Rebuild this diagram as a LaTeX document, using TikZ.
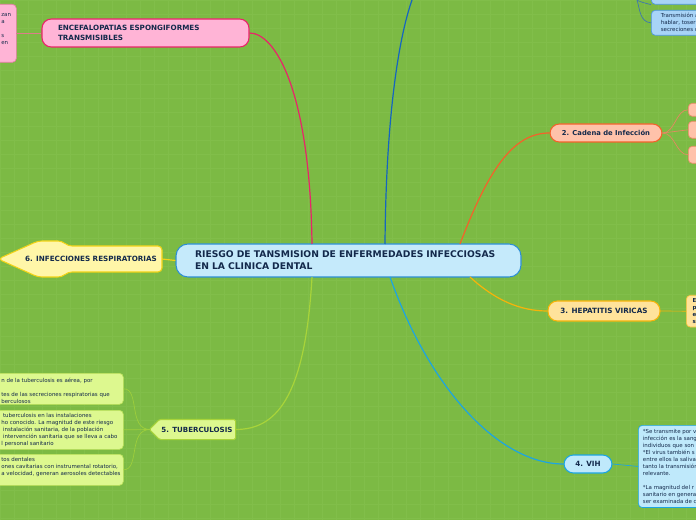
\documentclass[tikz,border=0pt]{standalone}
\usepackage{fontspec}
\setmainfont{DejaVu Sans}
\usetikzlibrary{calc}
\definecolor{bg}{HTML}{7CBA44}
\definecolor{gridc}{HTML}{81BE4A}
\definecolor{navy}{HTML}{13294B}
\definecolor{cfill}{HTML}{C5EAFB}\definecolor{cdraw}{HTML}{2D8FD5}
\definecolor{pfill}{HTML}{FFB4D6}\definecolor{pdraw}{HTML}{E8246A}\definecolor{psub}{HTML}{E87CA8}
\definecolor{sfill}{HTML}{FFC2AA}\definecolor{sdraw}{HTML}{F4622A}\definecolor{ssub}{HTML}{EE8A6A}
\definecolor{hfill}{HTML}{FFE39B}\definecolor{hdraw}{HTML}{F6B40A}
\definecolor{vfill}{HTML}{BFE9FB}\definecolor{vdraw}{HTML}{1CA5E2}
\definecolor{tfill}{HTML}{DDF88F}\definecolor{tdraw}{HTML}{A8D43A}
\definecolor{rfill}{HTML}{FFF6A8}\definecolor{rdraw}{HTML}{F2D316}
\definecolor{bfill}{HTML}{A8D4F7}\definecolor{bdraw}{HTML}{4E95E0}
\definecolor{blueline}{HTML}{1565C0}
\tikzset{
  mainbox/.style={draw=cdraw, fill=cfill, line width=0.8pt, rounded corners=9pt, text=navy,
     font=\fontsize{6.9}{9}\selectfont\bfseries, align=left},
  topic/.style={line width=0.8pt, rounded corners=7pt, text=navy,
     font=\fontsize{5.4}{7.5}\selectfont\bfseries, inner sep=0pt},
  sub/.style={line width=0.5pt, rounded corners=3pt, text=navy,
     font=\fontsize{4.1}{5.25}\selectfont, align=left, inner sep=0pt, anchor=north west},
  subb/.style={sub, font=\fontsize{4.1}{5.25}\selectfont\bfseries},
  conn/.style={line width=0.9pt},
  subconn/.style={line width=0.5pt},
}
\begin{document}
\begin{tikzpicture}[x=0.75pt,y=-0.75pt]
\useasboundingbox (0,0) rectangle (696,520);
\clip (0,0) rectangle (696,520);
\fill[bg] (0,0) rectangle (696,520);
\foreach \i in {0,14,...,700} {\draw[gridc, line width=0.4pt] (\i,0) -- (\i,520);}
\foreach \i in {0,14,...,520} {\draw[gridc, line width=0.4pt] (0,\i) -- (696,\i);}

% central node
\node[mainbox, minimum width=345*0.75pt, minimum height=33*0.75pt, text width=307*0.75pt, inner xsep=19*0.75pt] (c) at (348.5,260.5)
  {RIESGO DE TANSMISION DE ENFERMEDADES INFECCIOSAS\\EN LA CLINICA DENTAL};
\coordinate (c1) at (312,244);
\coordinate (c2) at (385,244);
\coordinate (c3) at (460,244);
\coordinate (c4) at (470,277);
\coordinate (c5) at (390,277);
\coordinate (c6) at (312,277);

% ENCEFALOPATIAS
\node[topic, draw=pdraw, fill=pfill, minimum width=207*0.75pt, minimum height=28*0.75pt, text width=175*0.75pt, inner xsep=16*0.75pt, align=left] (enc) at (145.5,33)
  {ENCEFALOPATIAS ESPONGIFORMES\\TRANSMISIBLES};
\node[sub, draw=psub, fill=pfill, minimum width=36*0.75pt, minimum height=58*0.75pt] (encs) at (-20,4) {};
\node[sub, draw=none, fill=none, text width=20*0.75pt] (encst) at (1,13) {zan\\a\\[5.25pt]s\\en};
\coordinate (encsr) at (16,33);
\draw[subconn, color=psub!70!brown] (encsr) -- (enc.west);

% top blue boxes
\node[sub, draw=bdraw, fill=bfill, minimum width=60*0.75pt, minimum height=16*0.75pt] (ba) at (651,-12) {};
\node[sub, draw=none, fill=none] (bat) at (656,-6) {mucosas};
\node[sub, draw=bdraw, fill=bfill, minimum width=60*0.75pt, minimum height=25*0.75pt, inner sep=2.2pt] (bb) at (651,10) {Transmisión aé\\hablar, toser o\\secreciones co};
\coordinate (btop) at (637,0);
\draw[subconn, bdraw!70!navy] (btop) .. controls (640,2) and (645,3) .. (ba.south west);
\draw[subconn, bdraw!70!navy] (btop) .. controls (640,10) and (640,22) .. (bb.west);

% 2. Cadena
\node[topic, draw=sdraw, fill=sfill, minimum width=112*0.75pt, minimum height=18*0.75pt, font=\fontsize{5.1}{7.5}\selectfont\bfseries] (cad) at (606,133) {2. Cadena de Infección};
\node[subb, draw=ssub, fill=sfill, minimum width=20*0.75pt, minimum height=13*0.75pt, inner sep=2pt] (cs1) at (688,103) {h};
\node[subb, draw=ssub, fill=sfill, minimum width=20*0.75pt, minimum height=17*0.75pt, inner sep=2pt] (cs2) at (688,121) {E\\P};
\node[subb, draw=ssub, fill=sfill, minimum width=20*0.75pt, minimum height=17*0.75pt, inner sep=2pt] (cs3) at (688,146) {L\\P};
\draw[subconn, ssub!80!brown] (cad.east) .. controls (675,133) and (676,109.5) .. (cs1.west);
\draw[subconn, ssub!80!brown] (cad.east) -- (cs2.west);
\draw[subconn, ssub!80!brown] (cad.east) .. controls (675,133) and (676,154.5) .. (cs3.west);

% 3. Hepatitis
\node[topic, draw=hdraw, fill=hfill, minimum width=112*0.75pt, minimum height=20*0.75pt] (hep) at (604,311) {3. HEPATITIS VIRICAS};
\node[subb, draw=hdraw!80!white, fill=hfill, minimum width=20*0.75pt, minimum height=31*0.75pt, inner sep=2.5pt] (hs) at (686,295) {Es\\pr\\en\\si};
\draw[subconn, hdraw] (hep.east) -- (hs.west);

% 4. VIH
\node[topic, draw=vdraw, fill=vfill, minimum width=48*0.75pt, minimum height=18*0.75pt] (vih) at (588,464) {4. VIH};
\node[sub, draw=vdraw, fill=vfill, minimum width=64*0.75pt, minimum height=78*0.75pt, inner sep=3pt] (vs) at (638,425)
 {*Se transmite por v\\infección es la sang\\individuos que son\\*El virus también s\\entre ellos la saliva\\tanto la transmisión\\relevante.\\[5.25pt]*La magnitud del r\\sanitario en genera\\ser examinada de c};
\draw[subconn, vdraw] (vih.east) -- (vs.west);

% 5. Tuberculosis
\node[topic, draw=none, minimum width=75*0.75pt, minimum height=19*0.75pt] (tb) at (197.5,429.5) {};
\fill[tfill, draw=tdraw, line width=0.8pt, rounded corners=1pt] (tb.north east) -- (tb.north west) -- ($(tb.west)+(-10,0)$) -- (tb.south west) -- (tb.south east) -- cycle;
\node[text=navy, font=\fontsize{5.3}{7.5}\selectfont\bfseries] (tbt) at (197,429.5) {5. TUBERCULOSIS};
\coordinate (tbtip) at (150,429.5);
\node[sub, draw=tdraw!60!tfill, fill=tfill, minimum width=135*0.75pt, minimum height=31*0.75pt] (t1) at (-12,373) {};
\node[sub] (t1t) at (1,377.5) {n de la tuberculosis es aérea, por\\[5.25pt]tes de las secreciones respiratorias que\\berculosos};
\node[sub, draw=tdraw!60!tfill, fill=tfill, minimum width=135*0.75pt, minimum height=39*0.75pt] (t2) at (-12,410) {};
\node[sub] (t2t) at (1,413.5) {\ tuberculosis en las instalaciones\\ho conocido. La magnitud de este riesgo\\\ instalación sanitaria, de la población\\\ intervención sanitaria que se lleva a cabo\\l personal sanitario};
\node[sub, draw=tdraw!60!tfill, fill=tfill, minimum width=135*0.75pt, minimum height=31*0.75pt] (t3) at (-12,454) {};
\node[sub] (t3t) at (1,457) {tos dentales\\ones cavitarias con instrumental rotatorio,\\a velocidad, generan aerosoles detectables};
\draw[subconn, tdraw!80!bg] (tbtip) .. controls (128,429.5) and (140,388.5) .. (t1.east);
\draw[subconn, tdraw!80!bg] (tbtip) -- (t2.east);
\draw[subconn, tdraw!80!bg] (tbtip) .. controls (128,429.5) and (140,469.5) .. (t3.east);

% 6. Infecciones respiratorias
\node[topic, draw=none, minimum width=100*0.75pt, minimum height=26*0.75pt] (resp) at (112,259) {};
\fill[rfill, draw=rdraw, line width=0.8pt, rounded corners=3pt] (162,246) -- (68,246) -- (62,241) -- (38,241) -- (-2,259) -- (38,277) -- (62,277) -- (68,272) -- (162,272) -- cycle;
\node[text=navy, font=\fontsize{5.4}{7.5}\selectfont\bfseries] (respt) at (91,259) {6. INFECCIONES RESPIRATORIAS};

% main connectors
\draw[conn, pdraw] (c1) .. controls (310,90) and (275,33) .. (enc.east);
\draw[conn, blueline] (c2) .. controls (386,120) and (398,40) .. (412,0);
\draw[conn, sdraw] (c3) .. controls (490,165) and (515,133) .. (cad.west);
\draw[conn, hdraw] (c4) .. controls (495,300) and (520,311) .. (hep.west);
\draw[conn, vdraw] (c5) .. controls (430,390) and (500,464) .. (vih.west);
\draw[conn, tdraw] (c6) .. controls (305,400) and (275,429.5) .. (tb.east);
\draw[conn, rdraw] (162,259) -- (c.west);
\end{tikzpicture}
\end{document}
